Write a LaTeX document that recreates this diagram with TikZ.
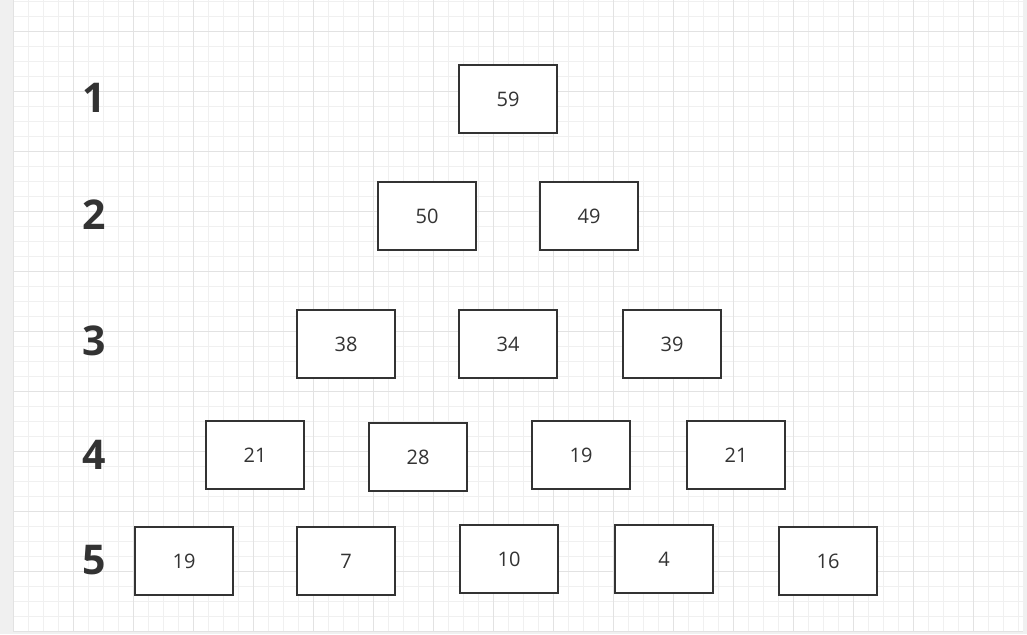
\documentclass[tikz,border=0pt]{standalone}
\usepackage{fontspec}
\setmainfont{Open Sans}
\definecolor{pagebg}{HTML}{F0F0F0}
\definecolor{gridminor}{HTML}{F0F0F0}
\definecolor{gridmajor}{HTML}{E2E2E2}
\definecolor{ink}{HTML}{333333}
\tikzset{
  numbox/.style={draw=ink, line width=1.6pt, fill=white, minimum width=98.5pt, minimum height=68.5pt, inner sep=0pt, text=ink, font=\fontsize{20}{24}\selectfont},
  rowlabel/.style={text=ink, inner sep=0pt, font=\fontsize{41}{48}\selectfont\bfseries}
}
\begin{document}
\begin{tikzpicture}[x=1pt,y=-1pt]
\useasboundingbox (0,0) rectangle (1027,634);
\fill[pagebg] (0,0) rectangle (1027,634);
\fill[white] (13,0) rectangle (1023,631);
\foreach \i in {0,...,67} {\draw[gridminor, line width=1pt] (13+15*\i,0) -- (13+15*\i,631);}
\foreach \j in {0,...,42} {\draw[gridminor, line width=1pt] (13,1.7+15*\j) -- (1023,1.7+15*\j);}
\foreach \i in {0,...,16} {\draw[gridmajor, line width=1pt] (13+60*\i,0) -- (13+60*\i,631);}
\foreach \j in {0,...,10} {\draw[gridmajor, line width=1pt] (13,31.7+60*\j) -- (1023,31.7+60*\j);}
% row labels
\node[rowlabel] (l1) at (94,98) {1};
\node[rowlabel] (l2) at (94,215) {2};
\node[rowlabel] (l3) at (94,341) {3};
\node[rowlabel] (l4) at (94,455) {4};
\node[rowlabel] (l5) at (94,560) {5};
% row 1
\node[numbox] (a1) at (508,99) {59};
% row 2
\node[numbox] (b1) at (427,216) {50};
\node[numbox] (b2) at (589,216) {49};
% row 3
\node[numbox] (c1) at (346,344) {38};
\node[numbox] (c2) at (508,344) {34};
\node[numbox] (c3) at (672,344) {39};
% row 4
\node[numbox] (d1) at (255,455) {21};
\node[numbox] (d2) at (418,457) {28};
\node[numbox] (d3) at (581,455) {19};
\node[numbox] (d4) at (736,455) {21};
% row 5
\node[numbox] (e1) at (184,561) {19};
\node[numbox] (e2) at (346,561) {7};
\node[numbox] (e3) at (509,559) {10};
\node[numbox] (e4) at (664,559) {4};
\node[numbox] (e5) at (828,561) {16};
\end{tikzpicture}
\end{document}
